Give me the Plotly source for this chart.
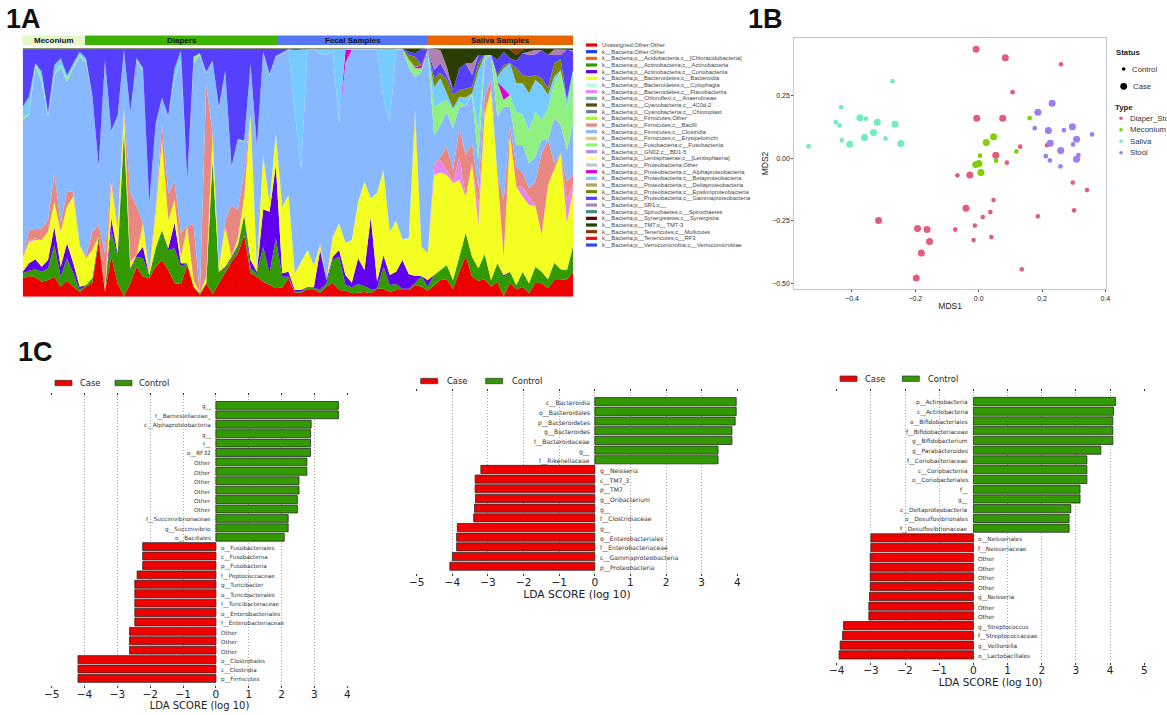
import numpy as np
import plotly.graph_objects as go

W, H = 1167, 715
def fx(p): return p / W
def fy(p): return 1 - p / H

# ---------- 1A: relative abundance per sample (cumulative, full height = 745 units)
taxa = ["Unassigned;Other;Other", "k__Bacteria;Other;Other", "k__Bacteria;p__Acidobacteria;c__[Chloracidobacteria]",
        "k__Bacteria;p__Actinobacteria;c__Actinobacteria", "k__Bacteria;p__Actinobacteria;c__Coriobacteriia",
        "k__Bacteria;p__Bacteroidetes;c__Bacteroidia", "k__Bacteria;p__Bacteroidetes;c__Cytophagia",
        "k__Bacteria;p__Bacteroidetes;c__Flavobacteriia", "k__Bacteria;p__Chloroflexi;c__Anaerolineae",
        "k__Bacteria;p__Cyanobacteria;c__4C0d-2", "k__Bacteria;p__Cyanobacteria;c__Chloroplast",
        "k__Bacteria;p__Firmicutes;Other", "k__Bacteria;p__Firmicutes;c__Bacilli",
        "k__Bacteria;p__Firmicutes;c__Clostridia", "k__Bacteria;p__Firmicutes;c__Erysipelotrichi",
        "k__Bacteria;p__Fusobacteria;c__Fusobacteriia", "k__Bacteria;p__GN02;c__BD1-5",
        "k__Bacteria;p__Lentisphaerae;c__[Lentisphaeria]", "k__Bacteria;p__Proteobacteria;Other",
        "k__Bacteria;p__Proteobacteria;c__Alphaproteobacteria", "k__Bacteria;p__Proteobacteria;c__Betaproteobacteria",
        "k__Bacteria;p__Proteobacteria;c__Deltaproteobacteria", "k__Bacteria;p__Proteobacteria;c__Epsilonproteobacteria",
        "k__Bacteria;p__Proteobacteria;c__Gammaproteobacteria", "k__Bacteria;p__SR1;c__",
        "k__Bacteria;p__Spirochaetes;c__Spirochaetes", "k__Bacteria;p__Synergistetes;c__Synergistia",
        "k__Bacteria;p__TM7;c__TM7-3", "k__Bacteria;p__Tenericutes;c__Mollicutes",
        "k__Bacteria;p__Tenericutes;c__RF3", "k__Bacteria;p__Verrucomicrobia;c__Verrucomicrobiae"]
taxa_colors = ["#ee0000", "#2040ff", "#e86a10", "#339900", "#6000ee", "#f3ff20", "#b0ffe8", "#e986ee", "#6fbf9f",
               "#5a4a10", "#708080", "#99ff22", "#e88880", "#88b8ff", "#eec080", "#90f080", "#a090ff", "#ffff90",
               "#c0c8c8", "#dd00dd", "#77ccff", "#b8a060", "#778800", "#5540ff", "#b080b0", "#408f80", "#660000",
               "#2a3d00", "#8b3a00", "#ee1010", "#2850f5"]

red = [55,62,58,45,50,60,30,48,30,14,30,42,165,15,120,40,2,40,90,60,55,90,110,80,40,38,95,30,5,40,8,40,75,105,130,185,70,60,45,35,25,28,55,12,
       12,22,22,12,30,42,20,18,10,12,14,10,24,24,14,20,20,20,35,30,18,35,50,52,22,75,122,60,48,52,30,45,2,42,22,30,10,42,40,25,50,50,52,75]
green = [70,78,82,75,85,155,60,115,70,20,35,55,178,20,200,120,490,80,120,115,65,145,200,140,145,90,100,30,10,40,410,75,85,115,150,245,85,70,150,70,175,60,60,15,
         15,30,25,22,40,110,120,35,28,38,32,22,24,90,35,38,24,24,40,62,30,65,80,95,50,120,192,120,85,128,50,100,60,75,35,75,40,90,75,52,102,82,80,155]
purple = [75,100,112,90,110,210,90,160,100,30,35,55,180,20,235,130,500,85,125,150,65,145,200,145,222,100,100,30,10,40,410,75,90,120,155,245,110,75,262,255,395,70,75,20,
          20,30,28,140,50,120,140,65,42,115,80,240,45,125,65,75,110,68,62,62,50,65,80,95,50,120,192,120,85,128,50,100,65,75,35,75,40,90,75,52,102,82,80,155]
yellow = [115,165,170,170,195,285,195,270,302,155,115,140,175,20,340,200,560,105,120,220,70,250,470,230,290,120,210,50,10,60,490,90,210,120,175,300,545,90,425,280,490,270,305,70,
          105,140,95,155,45,180,220,162,170,285,345,295,312,380,195,228,172,175,545,150,130,365,372,365,340,350,300,400,215,550,620,360,120,485,330,300,275,272,185,335,380,430,220,325]
flavo_extra = {1:5, 2:5, 65:30, 66:38, 67:15, 68:5, 69:70, 72:55, 79:30, 80:25, 81:3, 86:70, 87:15}
bacilli = [115,200,203,205,230,370,220,315,315,155,120,195,215,130,365,205,565,315,270,220,80,270,520,310,345,190,213,218,10,635,490,90,230,275,260,370,545,90,425,280,490,270,305,70,
           105,140,95,160,45,185,220,162,170,285,345,295,312,380,195,228,172,175,565,150,130,395,420,450,380,505,425,460,325,600,650,365,290,515,390,370,325,345,430,470,400,430,345,370]
clostridia = [530,545,690,645,540,665,690,645,685,720,700,600,390,705,495,540,740,550,710,680,280,515,595,540,655,705,350,700,725,670,705,565,675,385,470,465,695,450,730,665,720,730,740,550,
              380,740,740,730,725,735,520,700,740,740,740,740,740,590,525,740,743,690,658,675,740,485,515,555,505,570,572,605,410,710,725,540,570,570,455,455,400,420,470,460,535,515,440,520]
fuso_extra = [5,5,10,10,5,5,5,10,5,5,5,3,1,1,3,3,1,3,3,3,1,1,1,1,3,3,1,20,5,3,3,3,3,3,3,3,3,3,3,3,1,1,1,1,
              1,1,1,1,1,1,1,1,1,1,1,1,1,1,1,1,1,
              22,27,10,1,85,65,35,55,15,0,5,90,10,0,105,20,35,100,90,100,135,60,105,105,160,125,165]
alpha_extra = {51:40, 62:3, 63:10, 76:35}
beta = [570,600,700,675,550,695,715,665,700,735,715,600,390,710,495,540,740,552,715,685,280,518,597,542,685,738,350,720,730,672,707,567,677,390,472,468,697,452,735,668,722,732,742,740,
        742,742,742,742,742,742,742,742,742,742,742,742,742,742,742,742,742,
        712,690,690,742,628,655,610,565,600,598,605,678,725,725,658,685,700,640,640,610,650,635,605,660,680,590,685]
epsilon_top = {61:725,62:720,63:695,64:742,65:655,66:672,67:652,68:605,69:620,70:625,71:628,72:700,73:725,74:725,75:665,76:695,77:700,78:685,79:665,80:660,81:665,82:655,83:625,84:700,85:712,86:590,87:685}
gamma_top = {61:735,62:730,64:743,65:680,66:700,67:665,68:620,69:685,70:700,71:665,72:725,73:725,74:725,75:710,76:735,77:715,78:708,79:730,80:725,81:727,82:740,83:725,84:725,85:725,86:742,87:735}
sr1_top = {64:745,65:743,66:740,67:690,71:700,80:735,81:740,84:742,85:742,87:740}
tm7_top = {77:742,78:725,79:742}
FULL = 745

n = len(red)
sample = np.arange(n)
def at(d, base): return [d.get(i, base[i]) for i in range(n)]
yel = np.array(yellow, float)
cl = np.array(clostridia, float)
flavo = yel + np.array([flavo_extra.get(i, 0) for i in range(n)])
fus = cl + np.array(fuso_extra)
alp = fus + np.array([alpha_extra.get(i, 0) for i in range(n)])
bet = np.array(beta, float)
eps = np.array(at(epsilon_top, beta), float)
gam = np.array(at(gamma_top, [742] * n), float)
sr1 = np.array(at(sr1_top, list(gam)), float)
tm7 = np.array(at(tm7_top, [745] * n), float)
stack = np.maximum.accumulate(np.vstack([red, green, purple, yel, flavo, bacilli, cl, fus, alp, bet, eps, gam, sr1, tm7, [FULL] * n]), axis=0)
stack_taxa = [0, 3, 4, 5, 7, 12, 13, 15, 19, 20, 22, 23, 24, 27, 28]

fig = go.Figure()
for k, (row, t) in enumerate(zip(stack, stack_taxa)):
    fig.add_trace(go.Scatter(x=sample, y=row, mode="lines", line=dict(width=0, color=taxa_colors[t]),
                             fill="tozeroy" if k == 0 else "tonexty", fillcolor=taxa_colors[t],
                             showlegend=False, xaxis="x", yaxis="y", hoverinfo="skip"))

# ---------- 1B: MDS ordination
dia_case_x = [-0.008,0.084,-0.006,0.076,0.054,-0.028,-0.040,-0.316,-0.193,-0.163,-0.155,-0.181,-0.197]
dia_case_y = [0.437,0.403,0.161,0.161,0.013,-0.067,-0.200,-0.249,-0.281,-0.285,-0.333,-0.379,-0.479]
dia_ctrl_x = [0.260,0.107,0.131,0.216,0.089,-0.067,0.297,0.342,0.047,0.037,0.013,-0.012,-0.074,-0.016,0.040,0.136,0.187,0.301]
dia_ctrl_y = [0.377,0.265,0.047,0.053,-0.017,-0.068,-0.097,-0.127,-0.167,-0.215,-0.235,-0.269,-0.285,-0.327,-0.315,-0.444,-0.232,-0.208]
mec_case_x = [0.024,0.047,-0.009,0.001,0.007]
mec_case_y = [0.064,0.087,-0.025,-0.020,-0.057]
mec_ctrl_x = [0.161,0.119,0.004,0.055]
mec_ctrl_y = [0.161,0.028,0.011,-0.009]
sal_case_x = [-0.375,-0.320,-0.264,-0.332,-0.360,-0.407,-0.246]
sal_case_y = [0.163,0.145,0.137,0.104,0.084,0.057,0.060]
sal_ctrl_x = [-0.272,-0.434,-0.356,-0.451,-0.439,-0.432,-0.294,-0.537]
sal_ctrl_y = [0.309,0.205,0.159,0.145,0.132,0.072,0.080,0.048]
sto_case_x = [0.232,0.187,0.220,0.296,0.309,0.226,0.259,0.309]
sto_case_y = [0.221,0.185,0.112,0.127,0.077,0.061,0.032,-0.003]
sto_ctrl_x = [0.177,0.269,0.358,0.298,0.212,0.315,0.225,0.258]
sto_ctrl_y = [0.121,0.113,0.096,0.056,0.009,0.013,-0.008,-0.032]
type_names = ["Diaper_Stool", "Meconium", "Saliva", "Stool"]
type_colors = ["#e35c7f", "#7fd000", "#70ebc6", "#9f7cf2"]
groups = [(dia_ctrl_x, dia_ctrl_y, 0, 4.6), (dia_case_x, dia_case_y, 0, 7),
          (mec_ctrl_x, mec_ctrl_y, 1, 4.6), (mec_case_x, mec_case_y, 1, 7),
          (sal_ctrl_x, sal_ctrl_y, 2, 4.6), (sal_case_x, sal_case_y, 2, 7),
          (sto_ctrl_x, sto_ctrl_y, 3, 4.6), (sto_case_x, sto_case_y, 3, 7)]
for gx, gy, t, s in groups:
    fig.add_trace(go.Scatter(x=gx, y=gy, mode="markers", marker=dict(color=type_colors[t], size=s, line=dict(width=0)),
                             showlegend=False, xaxis="x2", yaxis="y2", hoverinfo="skip"))

# ---------- 1C: LDA scores
lda1_labels = ["g__", "f__Barnesiellaceae_", "c__Alphaproteobacteria", "g__", "f__", "o__RF32", "Other", "Other", "Other",
               "Other", "Other", "Other", "f__Succinivibrionaceae", "g__Succinivibrio", "o__Bacillales",
               "o__Fusobacteriales", "c__Fusobacteriia", "p__Fusobacteria", "f__Peptococcaceae", "g__Turicibacter",
               "o__Turicibacterales", "f__Turicibacteraceae", "o__Enterobacteriales", "f__Enterobacteriaceae",
               "Other", "Other", "Other", "o__Clostridiales", "c__Clostridia", "p__Firmicutes"]
lda1_values = [3.73,3.73,2.9,2.88,2.88,2.88,2.77,2.77,2.53,2.53,2.48,2.48,2.2,2.2,2.08,
               -2.23,-2.23,-2.23,-2.4,-2.47,-2.47,-2.47,-2.47,-2.47,-2.63,-2.63,-2.63,-4.2,-4.2,-4.2]
lda2_labels = ["c__Bacteroidia", "o__Bacteroidales", "p__Bacteroidetes", "g__Bacteroides", "f__Bacteroidaceae", "g__",
               "f__Rikenellaceae", "g__Neisseria", "c__TM7_3", "p__TM7", "g__Oribacterium", "g__", "f__Clostridiaceae",
               "g__", "o__Enterobacteriales", "f__Enterobacteriaceae", "c__Gammaproteobacteria", "p__Proteobacteria"]
lda2_values = [3.97,3.97,3.94,3.85,3.85,3.46,3.46,-3.2,-3.36,-3.36,-3.35,-3.38,-3.4,-3.86,-3.88,-3.88,-4.0,-4.07]
lda3_labels = ["p__Actinobacteria", "c__Actinobacteria", "o__Bifidobacteriales", "f__Bifidobacteriaceae", "g__Bifidobacterium",
               "g__Parabacteroides", "f__Coriobacteriaceae", "c__Coriobacteriia", "o__Coriobacteriales", "f__", "g__",
               "c__Deltaproteobacteria", "o__Desulfovibrionales", "f__Desulfovibrionaceae", "o__Neisseriales",
               "f__Neisseriaceae", "Other", "Other", "Other", "Other", "g__Neisseria", "Other", "Other",
               "g__Streptococcus", "f__Streptococcaceae", "g__Veillonella", "o__Lactobacillales"]
lda3_values = [4.16,4.1,4.08,4.08,4.08,3.73,3.32,3.32,3.32,3.12,3.12,2.85,2.8,2.8,
               -3.0,-3.0,-3.02,-3.02,-3.02,-3.02,-3.04,-3.06,-3.06,-3.8,-3.83,-3.9,-3.93]
lda_ticks = [[-5,-4,-3,-2,-1,0,1,2,3,4], [-5,-4,-3,-2,-1,0,1,2,3,4], [-4,-3,-2,-1,0,1,2,3,4,5]]
CASE, CTRL = "#ee0000", "#339900"

annotations, shapes = [], []
def note(px, py, text, size, color="#333333", family="Liberation Sans", anchor="left", angle=0, bold=False):
    annotations.append(dict(x=fx(px), y=fy(py), xref="paper", yref="paper", text=f"<b>{text}</b>" if bold else text,
                            showarrow=False, xanchor=anchor, yanchor="middle", textangle=angle,
                            font=dict(size=size, color=color, family=family), borderpad=0))

panels = [
    (lda1_labels, lda1_values, lda_ticks[0], "x3", "y3", (51.7, 347.3), (396, 685), (-5, 4), 5.7, 10),
    (lda2_labels, lda2_values, lda_ticks[1], "x4", "y4", (416.7, 737.3), (392, 573), (-5, 4), 6.1, 10.8),
    (lda3_labels, lda3_values, lda_ticks[2], "x5", "y5", (836.7, 1144.3), (391.7, 661.7), (-4, 5), 5.8, 10.4),
]
axes = {}
for labels, values, ticks, xa, ya, xpx, ypx, xr, lfs, tfs in panels:
    m = len(values)
    pos = np.arange(m)
    fig.add_trace(go.Bar(y=pos, x=values, orientation="h", width=0.84, showlegend=False,
                         marker=dict(color=[CTRL if v > 0 else CASE for v in values], line=dict(color="#2a2a2a", width=0.8)),
                         xaxis=xa, yaxis=ya, hoverinfo="skip"))
    axes["xaxis" + xa[1:]] = dict(domain=[fx(xpx[0]), fx(xpx[1])], range=list(xr), anchor=ya, tickvals=ticks, showgrid=True,
                                  griddash="1px,2px", gridcolor="#aaaaaa", gridwidth=0.8, zeroline=False, showline=False, automargin=False,
                                  mirror="ticks", ticklabelstandoff=-3,
                                  ticks="outside", ticklen=2, tickwidth=0.7, tickcolor="#333333", tickfont=dict(size=10.5, family="DejaVu Sans", color="#222222"),
                                  title=dict(text="LDA SCORE (log 10)", font=dict(size=tfs, family="DejaVu Sans", color="#222222"), standoff=2))
    axes["yaxis" + ya[1:]] = dict(domain=[fy(ypx[1]), fy(ypx[0])], range=[m - 0.3, -1.0], anchor=xa, visible=False, automargin=False)
    for p, (lab, v) in enumerate(zip(labels, values)):
        annotations.append(dict(x=0, y=p, xref=xa, yref=ya, text=lab, showarrow=False, yshift=-1.5,
                                xanchor="right" if v > 0 else "left", xshift=-3 if v > 0 else 3,
                                font=dict(size=lfs, family="DejaVu Sans", color="#333333")))

# LDA legends
for (s1, t1, s2, t2, yc) in [(55, 79, 115, 138, 383), (420.7, 445.7, 485.7, 510.7, 381), (840, 864, 902.3, 926.7, 378.7)]:
    for s, t, c, name in [(s1, t1, CASE, "Case"), (s2, t2, CTRL, "Control")]:
        shapes.append(dict(type="rect", xref="paper", yref="paper", x0=fx(s), x1=fx(s + 17), y0=fy(yc + 2.7), y1=fy(yc - 2.7),
                           fillcolor=c, line=dict(color="#333333", width=0.7)))
        note(t, yc, name, 8.4, family="DejaVu Sans", color="#222222")

# 1A header and legend
header_names = ["Meconium", "Diapers", "Fecal Samples", "Saliva Samples"]
header_colors = ["#e2f8c8", "#3db500", "#5577f5", "#e86500"]
header_edges = [22.5, 85, 278, 428, 573]
for i, nm in enumerate(header_names):
    shapes.append(dict(type="rect", xref="paper", yref="paper", x0=fx(header_edges[i]), x1=fx(header_edges[i + 1]),
                       y0=fy(45), y1=fy(35.5), fillcolor=header_colors[i], line=dict(width=0)))
    note((header_edges[i] + header_edges[i + 1]) / 2, 40.5, nm, 8, color="#111133", anchor="center", bold=True)
for i, (nm, c) in enumerate(zip(taxa, taxa_colors)):
    yc = 45 + i * 6.667
    shapes.append(dict(type="rect", xref="paper", yref="paper", x0=fx(586), x1=fx(597), y0=fy(yc + 1.6), y1=fy(yc - 1.6),
                       fillcolor=c, line=dict(width=0)))
    note(601, yc, nm, 5.8, color="#444444")

# 1B legend
def dot(px, py, r, c):
    shapes.append(dict(type="circle", xref="paper", yref="paper", x0=fx(px - r), x1=fx(px + r), y0=fy(py + r), y1=fy(py - r),
                       fillcolor=c, line=dict(width=0)))
note(1115, 52, "Status", 7.8, color="#222222", bold=True)
dot(1123.7, 69, 1.8, "#000000"); note(1131, 69, "Control", 7.8)
dot(1123.7, 86.3, 3.4, "#000000"); note(1132, 86.3, "Case", 7.8)
note(1114, 107.7, "Type", 7.8, color="#222222", bold=True)
for i, (nm, c, yc) in enumerate(zip(type_names, type_colors, [118.3, 129.7, 141.3, 152.7])):
    dot(1121, yc, 1.8, c)
    note(1129.3, yc, nm, 7.8)

note(5, 19.5, "1A", 27, color="#111111", bold=True)
note(747, 19.5, "1B", 27, color="#111111", bold=True)
note(17, 352, "1C", 27, color="#111111", bold=True)

fig.update_layout(
    width=W, height=H, autosize=False, margin=dict(l=0, r=0, t=0, b=0), paper_bgcolor="white", plot_bgcolor="white",
    font=dict(family="Liberation Sans"), barmode="overlay", showlegend=False,
    xaxis=dict(domain=[fx(22.7), fx(573.3)], range=[0, n - 1], visible=False, anchor="y", automargin=False),
    yaxis=dict(domain=[fy(296.7), fy(48.3)], range=[0, FULL], visible=False, anchor="x", automargin=False),
    xaxis2=dict(domain=[fx(794.3), fx(1106)], range=[-0.582, 0.402], anchor="y2", tickvals=[-0.4, -0.2, 0, 0.2, 0.4], automargin=False,
                ticktext=["−0.4", "−0.2", "0.0", "0.2", "0.4"], showgrid=False, zeroline=False, showline=True, mirror=True,
                linecolor="#bcc8cc", linewidth=1, ticks="outside", ticklen=2, tickcolor="#555555", tickfont=dict(size=7, color="#222222"),
                title=dict(text="MDS1", font=dict(size=8.5, color="#222222"), standoff=2)),
    yaxis2=dict(domain=[fy(289.3), fy(37.7)], range=[-0.524, 0.483], anchor="x2", tickvals=[-0.5, -0.25, 0, 0.25], automargin=False,
                ticktext=["−0.50", "−0.25", "0.00", "0.25"], showgrid=False, zeroline=False, showline=True, mirror=True,
                linecolor="#bcc8cc", linewidth=1, ticks="outside", ticklen=2, tickcolor="#555555", tickfont=dict(size=7, color="#222222"),
                title=dict(text="MDS2", font=dict(size=8.5, color="#222222"), standoff=2)),
    annotations=annotations, shapes=shapes, **axes)

fig.write_html("out.html", config=dict(displayModeBar=False), post_script="document.body.style.margin='0';")
